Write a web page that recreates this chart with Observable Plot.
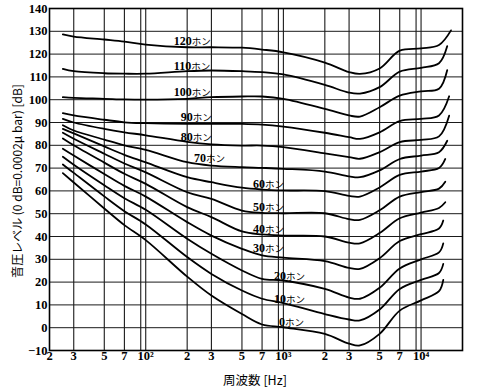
<!DOCTYPE html>
<html><head><meta charset="utf-8">
<script src="https://cdn.jsdelivr.net/npm/d3@7"></script>
<script src="https://cdn.jsdelivr.net/npm/@observablehq/plot@0.6"></script>
<style>body{margin:0;background:#fff}</style>
</head><body><div id="chart"></div>
<script>
// loudness levels (phon) of the curves
const phons = [120,110,100,90,80,70,60,50,40,30,20,10,0];
// shared frequencies (Hz) of the read points; last point of each curve uses endFreqs
const freqs = [25,30,50,70,100,200,300,500,700,1000,2000,3000,3600,5000,7000,10000,13500];
const endFreqs = [16500,15500,15500,16000,16000,15500,15000,15000,15000,14500,14500,14500,14500];
// sound pressure level (dB) of each curve
const L120 = [128.6,127.7,126.4,125.5,124.2,123.0,123.0,122.8,122.0,120.8,116.3,112.1,111.3,113.7,121.5,122.5,124.0,130.4];
const L110 = [113.5,112.5,111.6,111.4,111.4,112.5,112.8,112.5,112.1,111.1,106.5,103.1,102.7,105.5,112.3,114.0,116.0,123.5];
const L100 = [101.1,100.8,100.4,100.1,100.0,100.4,101.1,101.4,101.4,100.4,96.0,93.1,92.6,96.7,101.8,103.7,104.8,113.0];
const L90  = [94.1,93.1,91.2,90.1,89.7,89.4,89.4,89.4,89.1,88.2,85.5,83.6,82.8,85.7,90.6,91.6,93.1,101.5];
const L80  = [91.6,90.0,87.2,85.7,84.4,81.5,80.4,79.9,79.9,79.2,76.5,74.8,74.1,77.0,81.4,82.4,83.9,93.0];
const L70  = [88.8,86.5,82.5,80.0,78.0,72.6,71.1,70.4,70.1,69.7,68.5,66.4,66.0,69.0,74.0,75.5,77.0,82.0];
const L60  = [87.2,85.2,79.5,75.8,72.5,66.0,63.8,61.4,60.6,60.2,59.9,57.8,57.5,61.5,67.0,68.5,70.0,74.0];
const L50  = [85.5,82.9,76.3,72.0,68.1,59.4,56.5,51.4,50.4,50.2,50.2,47.6,47.3,51.5,57.5,59.5,61.0,64.0];
const L40  = [83.0,80.0,72.4,67.5,63.1,52.9,48.5,42.2,40.9,40.4,40.0,37.3,37.0,41.5,48.0,50.5,52.5,55.0];
const L30  = [78.5,75.5,67.4,62.2,57.5,46.3,40.4,34.6,31.7,30.7,29.2,26.2,25.8,30.5,38.0,41.0,43.5,47.0];
const L20  = [75.0,71.5,62.5,56.8,51.7,39.0,32.4,25.1,21.4,20.7,17.0,13.2,12.7,17.5,26.0,30.0,33.0,37.0];
const L10  = [71.6,67.9,57.6,51.1,45.3,31.0,23.6,16.3,12.7,10.8,6.0,3.6,3.2,8.0,17.0,21.0,24.0,28.0];
const L0   = [67.8,63.7,52.3,45.0,38.4,22.4,14.1,6.0,1.4,0.2,-2.7,-7.0,-7.8,-2.7,7.5,12.0,16.0,21.0];
const series = [L120,L110,L100,L90,L80,L70,L60,L50,L40,L30,L20,L10,L0];

// curve labels
const labelNum  = ["120","110","100","90","80","70","60","50","40","30","20","10","0"];
const labelUnit = "ホン";
const labelFreq = [160,160,160,180,180,224,602,602,602,602,855,855,931];
const labelDb   = [125.5,114.6,103.2,92.2,83.4,74.2,62.8,52.7,43.1,34.7,22.5,12.7,2.6];

// axes
const xTicks = [20,30,50,70,100,200,300,500,700,1000,2000,3000,5000,7000,10000];
const xTickLabels = ["2","3","5","7","10²","2","3","5","7","10³","2","3","5","7","10⁴"];
const xGrid = [30,50,70,92,100,200,300,500,700,920,1000,2000,3000,5000,7000,9200,10000];
const yTicks = [-10,0,10,20,30,40,50,60,70,80,90,100,110,120,130,140];
const xTitle = "周波数 [Hz]";
const yTitle = "音圧レベル (0 dB=0.0002μ bar) [dB]";

const table = [];
phons.forEach((p, i) => {
  const fs = freqs.concat([endFreqs[i]]);
  series[i].forEach((v, j) => table.push({phon: p, f: fs[j], db: v}));
});
const labels = labelNum.map((t, i) => ({t, f: labelFreq[i], db: labelDb[i]}));
const xLab = xTicks.map((f, i) => ({f, t: xTickLabels[i]}));

const serif = "'Liberation Serif', 'DejaVu Serif', serif";
const chart = Plot.plot({
  width: 480, height: 392,
  marginTop: 8, marginRight: 18, marginBottom: 42, marginLeft: 49,
  x: {type: "log", domain: [20, 20000], axis: null},
  y: {domain: [-10, 140], axis: null},
  style: {fontFamily: serif, fontSize: "12px", background: "#fff", color: "#000"},
  marks: [
    Plot.ruleY(yTicks, {stroke: "#1a1a1a", strokeWidth: 1}),
    Plot.ruleX(xGrid, {stroke: "#1a1a1a", strokeWidth: 1.1}),
    Plot.frame({stroke: "#000", strokeWidth: 1.6}),
    Plot.line(table, {x: "f", y: "db", z: "phon", curve: "catmull-rom", stroke: "#000", strokeWidth: 1.8}),
    Plot.text(labels, {x: "f", y: "db", text: "t", textAnchor: "start", fontSize: 12, fontWeight: "bold", fill: "#000", className: "clabel"}),
    Plot.text(xLab, {x: "f", text: "t", frameAnchor: "bottom", lineAnchor: "top", dy: 1, fontSize: 12.5, fontWeight: "bold", fill: "#000"}),
    Plot.text(yTicks, {y: d => d, text: d => d < 0 ? "−" + Math.abs(d) : String(d), frameAnchor: "left", textAnchor: "end", dx: -2, fontSize: 12.5, fontWeight: "bold", fill: "#000"})
  ]
});

const svg = d3.select(chart);
// append the small "ホン" unit to each curve label
svg.selectAll(".clabel text").each(function() {
  d3.select(this).append("tspan").attr("font-size", 9.5).attr("font-weight", "normal")
    .attr("font-family", "'Noto Sans CJK JP', sans-serif").text(labelUnit);
});
svg.append("text").attr("x", 255).attr("y", 385).attr("text-anchor", "middle").attr("fill", "#000")
  .attr("font-size", 12.5).attr("font-family", "'Noto Sans CJK JP', sans-serif").text(xTitle);
svg.append("text").attr("transform", "translate(22,181) rotate(-90)").attr("text-anchor", "middle").attr("fill", "#000")
  .attr("font-size", 12).attr("font-family", "'Noto Sans CJK JP', 'Liberation Serif', serif").text(yTitle);
document.getElementById("chart").appendChild(chart);
</script>
</body></html>
